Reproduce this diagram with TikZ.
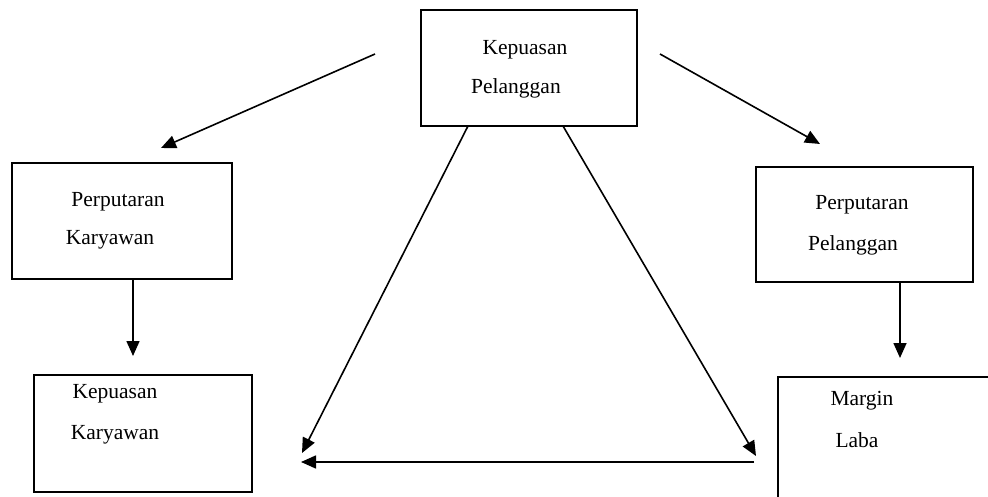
\documentclass[tikz,border=0pt]{standalone}
\usepackage{fontspec}
\setmainfont{Liberation Serif}
\usetikzlibrary{arrows.meta}
\begin{document}
\begin{tikzpicture}[x=1pt,y=-1pt,
  box/.style={draw, line width=2pt, inner sep=0pt},
  lbl/.style={inner sep=0pt, font=\fontsize{21.5}{24}\selectfont},
  conn/.style={line width=1.6pt, -{Triangle[length=15pt,width=13pt]}}]
\useasboundingbox (0,0) rectangle (988,497);
% boxes
\node[box, minimum width=216pt, minimum height=116pt] (kp) at (529,68) {};
\node[box, minimum width=220pt, minimum height=116pt] (pk) at (122,221) {};
\node[box, minimum width=217pt, minimum height=115pt] (pp) at (864.5,224.5) {};
\node[box, minimum width=218pt, minimum height=117pt] (kk) at (143,433.5) {};
\node[inner sep=0pt, minimum width=212pt, minimum height=121pt] (ml) at (884,437.5) {};
\draw[line width=2pt] (ml.south west) -- (ml.north west) -- (ml.north east);
% labels
\node[lbl] (t1) at (525,50) {Kepuasan};
\node[lbl] (t2) at (516,88) {Pelanggan};
\node[lbl] (t3) at (118,202) {Perputaran};
\node[lbl] (t4) at (110,240) {Karyawan};
\node[lbl] (t5) at (862,205) {Perputaran};
\node[lbl] (t6) at (853,245) {Pelanggan};
\node[lbl] (t7) at (115,394) {Kepuasan};
\node[lbl] (t8) at (115,435) {Karyawan};
\node[lbl] (t9) at (862,401) {Margin};
\node[lbl] (t10) at (857,440) {Laba};
% connector end points
\coordinate (a1s) at (375,54);
\coordinate (a1e) at (161,148);
\coordinate (a2s) at (660,54);
\coordinate (a2e) at (820,144);
\coordinate (a3s) at (468,126);
\coordinate (a3e) at (302,453);
\coordinate (a4s) at (563,126);
\coordinate (a4e) at (756,456);
\coordinate (a5e) at (133,356);
\coordinate (a6e) at (900,358);
\coordinate (a7s) at (754,462);
\coordinate (a7e) at (301,462);
% connectors
\draw[conn] (a1s) -- (a1e);
\draw[conn] (a2s) -- (a2e);
\draw[conn] (a3s) -- (a3e);
\draw[conn] (a4s) -- (a4e);
\draw[conn] (pk.south -| a5e) -- (a5e);
\draw[conn] (pp.south -| a6e) -- (a6e);
\draw[conn] (a7s) -- (a7e);
\end{tikzpicture}
\end{document}
